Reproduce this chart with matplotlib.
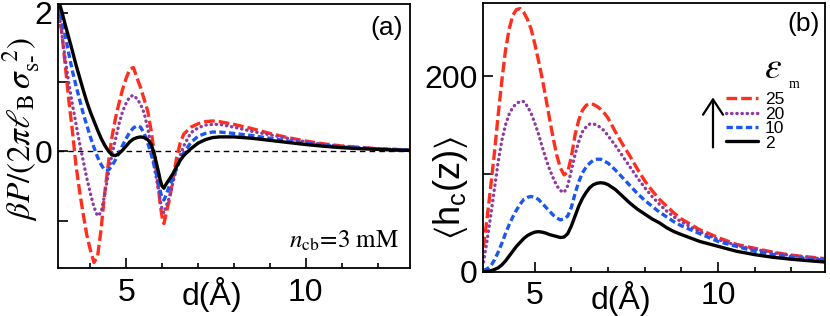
import numpy as np
import matplotlib
matplotlib.use("Agg")
import matplotlib.pyplot as plt

plt.rcParams['font.family'] = ['Liberation Sans', 'DejaVu Sans']
plt.rcParams['mathtext.fontset'] = 'custom'
plt.rcParams['mathtext.rm'] = 'Liberation Sans'
plt.rcParams['mathtext.it'] = 'Liberation Sans:italic'
plt.rcParams['mathtext.fallback'] = 'stixsans'
plt.rcParams['axes.linewidth'] = 1.3

# ---------------- data: panel (a) ----------------
d_a = [3.1, 3.2, 3.3, 3.4, 3.5, 3.6, 3.7, 3.8, 3.9, 4.0, 4.1, 4.2, 4.3, 4.4, 4.5,
       4.6, 4.7, 4.8, 4.9, 5.0, 5.1, 5.2, 5.3, 5.4, 5.5, 5.6, 5.7, 5.8, 5.9, 5.95,
       6.0, 6.05, 6.1, 6.2, 6.3, 6.4, 6.5, 6.6, 6.8, 7.0, 7.2, 7.4, 7.6, 7.8, 8.0,
       8.5, 9.0, 9.5, 10.0, 10.5, 11.0, 11.5, 12.0, 12.5, 12.9]
P_eps25 = [2.05, 1.74, 1.25, 0.74, 0.30, -0.20, -0.57, -0.90, -1.20, -1.42, -1.60, -1.52, -1.12, -0.60, -0.18,
           0.20, 0.48, 0.70, 0.90, 1.06, 1.19, 1.21, 1.06, 0.92, 0.75, 0.58, 0.28, -0.10, -0.55, -0.78,
           -0.95, -1.04, -0.92, -0.70, -0.40, -0.10, 0.12, 0.25, 0.35, 0.40, 0.43, 0.44, 0.43, 0.41, 0.39,
           0.33, 0.26, 0.20, 0.15, 0.11, 0.08, 0.06, 0.04, 0.03, 0.02]
P_eps20 = [2.10, 1.72, 1.34, 0.98, 0.68, 0.40, 0.12, -0.13, -0.38, -0.60, -0.80, -0.93, -0.88, -0.62, -0.33,
           -0.05, 0.17, 0.40, 0.58, 0.70, 0.79, 0.81, 0.76, 0.68, 0.55, 0.33, 0.05, -0.28, -0.56, -0.72,
           -0.84, -0.89, -0.80, -0.67, -0.45, -0.25, -0.06, 0.08, 0.27, 0.34, 0.38, 0.39, 0.39, 0.37, 0.35,
           0.29, 0.24, 0.19, 0.14, 0.10, 0.075, 0.055, 0.04, 0.03, 0.02]
P_eps10 = [2.12, 1.92, 1.67, 1.41, 1.16, 0.95, 0.75, 0.55, 0.38, 0.21, 0.06, -0.08, -0.19, -0.27, -0.27,
           -0.21, -0.12, -0.02, 0.09, 0.19, 0.28, 0.34, 0.37, 0.35, 0.26, 0.12, -0.05, -0.25, -0.45, -0.58,
           -0.67, -0.70, -0.64, -0.50, -0.38, -0.25, -0.12, -0.02, 0.13, 0.22, 0.26, 0.28, 0.28, 0.27, 0.26,
           0.23, 0.19, 0.15, 0.12, 0.09, 0.065, 0.05, 0.035, 0.025, 0.02]
P_eps2 = [2.20, 2.03, 1.83, 1.64, 1.45, 1.25, 1.07, 0.89, 0.72, 0.57, 0.44, 0.31, 0.19, 0.09, 0.01,
          -0.05, -0.06, -0.03, 0.02, 0.08, 0.14, 0.18, 0.20, 0.21, 0.20, 0.17, 0.10, -0.08, -0.30, -0.42,
          -0.50, -0.53, -0.48, -0.40, -0.32, -0.22, -0.13, -0.06, 0.04, 0.12, 0.17, 0.20, 0.21, 0.21, 0.21,
          0.19, 0.16, 0.13, 0.10, 0.075, 0.055, 0.04, 0.03, 0.02, 0.015]

# ---------------- data: panel (b) ----------------
d_b = [3.6, 3.7, 3.8, 3.9, 4.0, 4.1, 4.2, 4.3, 4.4, 4.5, 4.6, 4.7, 4.8, 4.9, 5.0,
       5.1, 5.2, 5.3, 5.4, 5.5, 5.6, 5.7, 5.8, 5.9, 6.0, 6.1, 6.2, 6.3, 6.4, 6.5,
       6.6, 6.7, 6.8, 6.9, 7.0, 7.2, 7.4, 7.6, 7.8, 8.0, 8.2, 8.4, 8.6, 8.8, 9.0,
       9.5, 10.0, 10.5, 11.0, 11.5, 12.0, 12.5, 12.9]
h_eps25 = [25, 55, 88, 122, 160, 195, 226, 248, 262, 268, 269, 265, 258, 248, 233,
           216, 198, 178, 157, 137, 119, 106, 99, 102, 118, 140, 155, 165, 170, 172,
           171, 169, 166, 162, 157, 143, 130, 118, 105, 93, 83, 74, 67, 60, 54,
           43, 35, 28, 24, 20, 17, 15, 13.5]
h_eps20 = [10, 32, 58, 85, 112, 134, 150, 161, 168, 172, 174, 174, 169, 162, 152,
           141, 128, 116, 105, 96, 88, 83, 81, 88, 104, 120, 133, 143, 148, 151,
           151, 150, 147, 144, 139, 129, 118, 107, 96, 86, 77, 69, 62, 56, 51,
           41, 33, 27, 23, 19.5, 16.5, 14.5, 13]
h_eps10 = [1.5, 3, 6, 12, 20, 29, 39, 48, 56, 63, 69, 74, 76, 77, 76,
           74, 70, 66, 62, 58, 55, 53, 54, 57, 66, 80, 92, 101, 107, 111,
           114, 115, 115, 113, 111, 104, 96, 88, 80, 73, 67, 61, 56, 51, 47,
           39, 31, 26, 21, 17.5, 15, 13, 12]
h_eps2 = [0, 0.3, 1, 2.3, 4, 7, 11, 16, 21, 26, 30, 34, 37, 39, 40.5,
          41, 40.5, 39.5, 38, 37, 36, 35, 35.5, 39, 47, 57, 67, 75, 81, 86,
          89, 90.5, 91, 90.5, 89, 84, 77, 70, 64, 59, 54, 50, 45, 41, 38,
          31, 26, 21, 17.5, 14.8, 12.8, 11.2, 10]

eps_labels = ['25', '20', '10', '2']
colors = ['#ff2f1f', '#8e3a9f', '#1b57f0', 'black']
styles = [(0, (3.2, 1.2)), (0, (0.1, 1.45)), (0, (1.9, 1.0)), '-']
caps = ['butt', 'round', 'butt', 'butt']

fig = plt.figure(figsize=(8.3, 3.16), dpi=100)
axA = fig.add_axes([0.0699, 0.152, 0.424, 0.835])
axB = fig.add_axes([0.5825, 0.140, 0.4115, 0.8515])

tickfont = 23

# ---- panel (a)
seriesA = [P_eps25, P_eps20, P_eps10, P_eps2]
axA.axhline(0, color='black', lw=1.0, ls=(0, (4, 3)), zorder=1)
for y, c, s, cp in zip(seriesA, colors, styles, caps):
    axA.plot(d_a, y, color=c, ls=s, lw=2.4, dash_capstyle=cp, solid_capstyle='round', zorder=2)
axA.set_xlim(3.1, 12.9)
axA.set_ylim(-1.68, 2.125)
axA.set_xticks([5, 10])
axA.set_xticks([4, 6, 7, 8, 9, 11, 12], minor=True)
axA.set_yticks([-1, 0, 1, 2])
axA.set_yticklabels(['', '0', '', '2'])
axA.text(0.4375, -0.035, 'd(Å)', transform=axA.transAxes, ha='center', va='top',
         fontsize=tickfont)
axA.text(0.98, 0.955, '(a)', transform=axA.transAxes, ha='right', va='top', fontsize=19)
axA.text(0.97, 0.075, r'$n_{\rm cb}\!=\!3\ {\rm mM}$', transform=axA.transAxes,
         ha='right', va='baseline', fontsize=18, math_fontfamily='stix')
fig.text(0.026, 0.59, r'$\beta P/(2\pi\ell_{\rm B}\,\sigma_{\rm s\text{-}}^{\;\,2})$', rotation=90,
         ha='center', va='center', fontsize=24, math_fontfamily='stix')

# ---- panel (b)
seriesB = [h_eps25, h_eps20, h_eps10, h_eps2]
handles = []
for y, c, s, cp, lab in zip(seriesB, colors, styles, caps, eps_labels):
    ln, = axB.plot(d_b, y, color=c, ls=s, lw=2.4, dash_capstyle=cp, solid_capstyle='round', label=lab)
    handles.append(ln)
axB.set_xlim(3.6, 12.92)
axB.set_ylim(0, 275)
axB.set_xticks([5, 10])
axB.set_xticks([6, 7, 8, 9, 11, 12], minor=True)
axB.set_yticks([0, 100, 200])
axB.set_yticklabels(['0', '', '200'])
axB.text(0.403, -0.035, 'd(Å)', transform=axB.transAxes, ha='center', va='top',
         fontsize=tickfont)
axB.text(0.985, 0.965, '(b)', transform=axB.transAxes, ha='right', va='top', fontsize=19)
fig.text(0.543, 0.405, r'$\langle\mathrm{h_c(z)}\rangle$', rotation=90, ha='center', va='center',
         fontsize=26)

leg = axB.legend(handles=handles, loc='upper left', bbox_to_anchor=(0.71, 0.668),
                 frameon=False, fontsize=12.5, handlelength=1.85, handletextpad=0.4,
                 labelspacing=-0.04, borderpad=0, borderaxespad=0)
axB.text(0.822, 0.72, r'$\varepsilon$', transform=axB.transAxes, fontsize=27,
         math_fontfamily='stix', ha='left', va='baseline')
axB.text(0.893, 0.683, 'm', transform=axB.transAxes, fontsize=10,
         family='Liberation Serif', ha='left', va='baseline')
axB.annotate('', xy=(0.672, 0.648), xytext=(0.672, 0.462), xycoords='axes fraction',
             arrowprops=dict(arrowstyle='->,head_length=0.55,head_width=0.36', lw=1.6,
                             mutation_scale=20, color='black', shrinkA=0, shrinkB=0))

for ax in (axA, axB):
    ax.tick_params(which='major', direction='in', length=7, width=1.2, labelsize=tickfont, pad=4)
    ax.tick_params(which='minor', direction='in', length=3.6, width=1.2)
    ax.tick_params(axis='x', which='major', pad=7)
    ax.tick_params(right=False, top=False)

fig.savefig('out.png', dpi=100)
